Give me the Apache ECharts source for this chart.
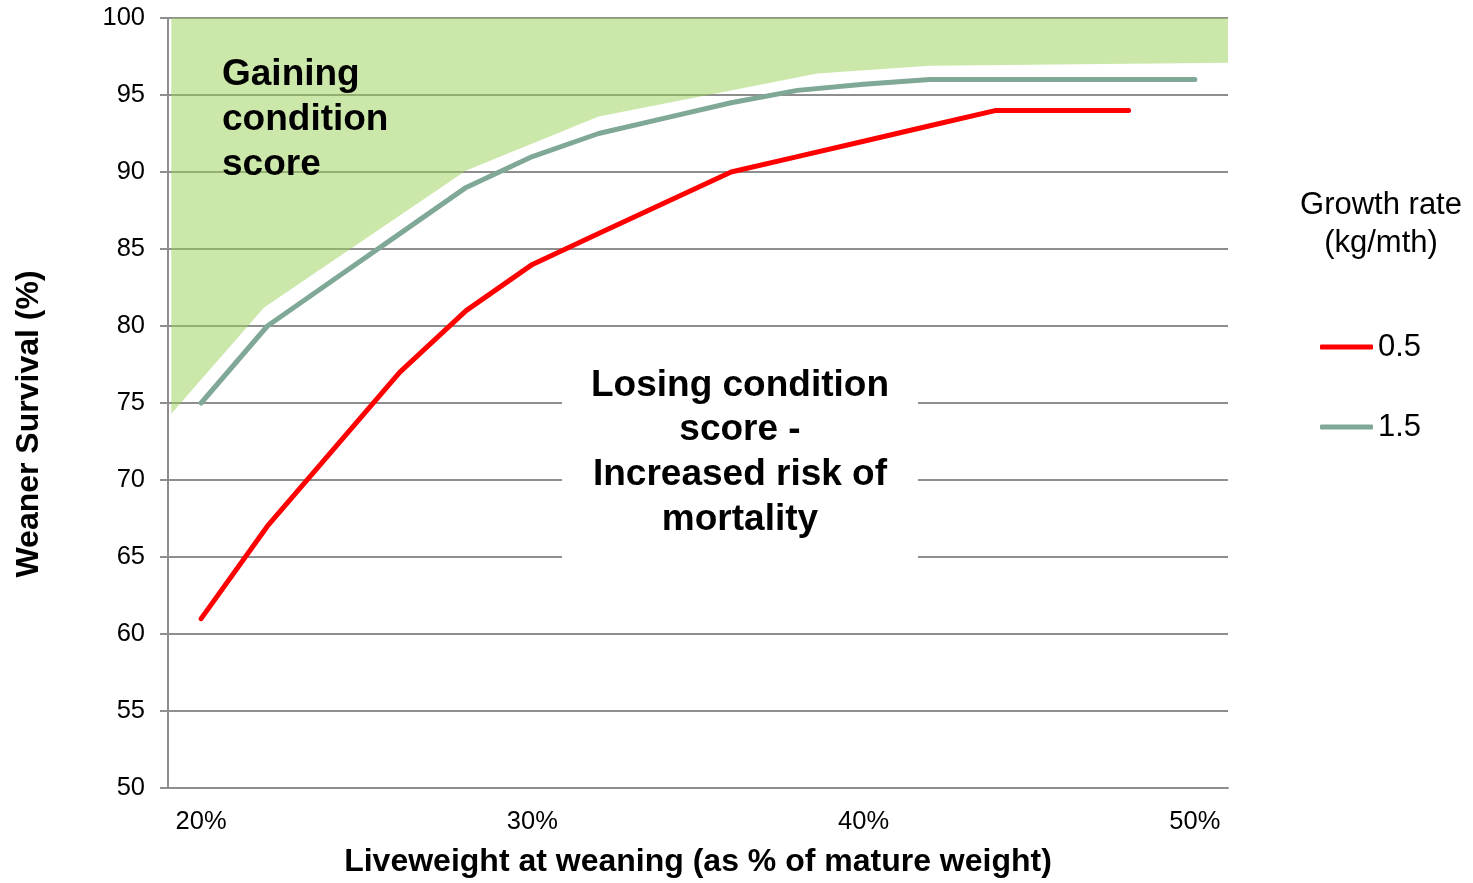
<!DOCTYPE html>
<html>
<head>
<meta charset="utf-8">
<script src="https://cdn.jsdelivr.net/npm/echarts@6/dist/echarts.min.js"></script>
<style>
html,body{margin:0;padding:0;background:#fff;}
#chart{width:1473px;height:883px;}
</style>
</head>
<body>
<div id="chart"></div>
<script>
// ---- data ----
const xValues = [20, 22, 24, 26, 28, 30, 32, 34, 36, 38, 40, 42, 44, 46, 48, 50];
const growth05 = [61, 67, 72, 77, 81, 84, 86, 88, 90, 91, 92, 93, 94, 94, 94, null];
const growth15 = [75, 80, 83, 86, 89, 91, 92.5, 93.5, 94.5, 95.3, 95.7, 96, 96, 96, 96, 96];
const seriesNames = ['0.5', '1.5'];
const bandX = [19.1, 21.9, 28, 32, 38.6, 42, 51];
const bandLower = [74.3, 81.2, 90.1, 93.6, 96.4, 96.9, 97.1];
const xTickLabels = [20, 30, 40, 50];
const yMin = 50, yMax = 100, yStep = 5;

const FONT = "'Liberation Sans', Arial, sans-serif";
const GRID = '#8e8e8e';

const pairs = (xs, ys) => xs.map((x, i) => [x, ys[i]]);

const chart = echarts.init(document.getElementById('chart'));
chart.setOption({
  animation: false,
  backgroundColor: '#fff',
  textStyle: { fontFamily: FONT },
  grid: { left: 168, right: 245, top: 18, bottom: 93, containLabel: false },
  title: {
    text: 'Growth rate\n(kg/mth)',
    left: 1376, top: 181,
    textAlign: 'center',
    textStyle: { fontFamily: FONT, fontSize: 31, fontWeight: 'normal', color: '#000', lineHeight: 38 }
  },
  legend: {
    data: seriesNames,
    orient: 'vertical',
    left: 1315, top: 324,
    icon: 'roundRect',
    itemWidth: 53, itemHeight: 5,
    itemGap: 44,
    textStyle: { fontFamily: FONT, fontSize: 31, color: '#000', lineHeight: 36 }
  },
  xAxis: {
    type: 'value',
    min: 19, max: 51,
    name: 'Liveweight at weaning (as % of mature weight)',
    nameLocation: 'middle',
    nameGap: 58,
    nameTextStyle: { fontFamily: FONT, fontSize: 32, fontWeight: 'bold', color: '#000' },
    axisLine: { show: true, lineStyle: { color: GRID, width: 2 } },
    axisTick: { show: false },
    splitLine: { show: false },
    axisLabel: {
      customValues: xTickLabels,
      formatter: v => v + '%',
      margin: 21,
      fontFamily: FONT, fontSize: 25.5, color: '#000'
    }
  },
  yAxis: {
    type: 'value',
    min: yMin, max: yMax, interval: yStep,
    name: 'Weaner Survival (%)',
    nameLocation: 'middle',
    nameRotate: 90,
    nameGap: 123,
    nameTextStyle: { fontFamily: FONT, fontSize: 32, fontWeight: 'bold', color: '#000', padding: [0, 42, 0, 0] },
    axisLine: { show: true, onZero: false, lineStyle: { color: GRID, width: 2 } },
    axisTick: { show: true, length: 8, lineStyle: { color: GRID, width: 2 } },
    splitLine: { show: true, lineStyle: { color: GRID, width: 2 } },
    axisLabel: { margin: 23, fontFamily: FONT, fontSize: 25.5, color: '#000' }
  },
  series: [
    {
      name: 'band', type: 'line', silent: true,
      data: pairs(bandX, bandLower),
      showSymbol: false, symbol: 'none',
      lineStyle: { width: 0, opacity: 0 },
      areaStyle: { color: 'rgba(151,207,83,0.5)', opacity: 1, origin: 'end' },
      z: 1
    },
    {
      name: seriesNames[1], type: 'line',
      data: pairs(xValues, growth15),
      showSymbol: false, symbol: 'none',
      color: '#80a896',
      lineStyle: { color: '#80a896', width: 5, cap: 'round', join: 'round' },
      z: 3
    },
    {
      name: seriesNames[0], type: 'line',
      data: pairs(xValues, growth05),
      showSymbol: false, symbol: 'none',
      color: '#ff0000',
      lineStyle: { color: '#ff0000', width: 5, cap: 'round', join: 'round' },
      z: 4
    }
  ],
  graphic: [
    {
      type: 'text', left: 222, top: 52, z: 100,
      style: {
        text: 'Gaining\ncondition\nscore',
        font: 'bold 37px ' + FONT, fill: '#000', lineHeight: 45
      }
    },
    {
      type: 'rect', z: 99,
      shape: { x: 562, y: 340, width: 356, height: 245 },
      style: { fill: '#fff' }
    },
    {
      type: 'text', z: 100,
      x: 740, y: 363,
      style: {
        text: 'Losing condition\nscore -\nIncreased risk of\nmortality',
        font: 'bold 37px ' + FONT, fill: '#000', lineHeight: 44.7,
        align: 'center', verticalAlign: 'top'
      }
    }
  ]
});
</script>
</body>
</html>
